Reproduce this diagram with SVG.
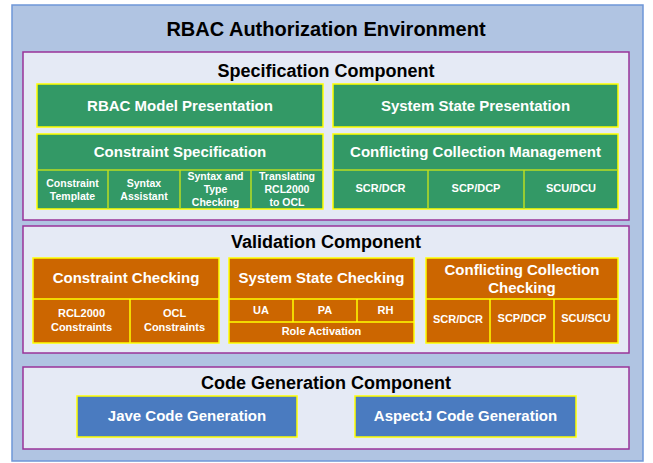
<svg xmlns="http://www.w3.org/2000/svg" width="653" height="463" viewBox="0 0 653 463">
  <style>
    text { font-family: "Liberation Sans", Arial, sans-serif; font-weight: bold; text-anchor: middle; }
    .title { font-size: 20px; fill: #000; }
    .section { font-size: 18px; fill: #000; }
    .head { font-size: 15px; fill: #fff; }
    .sub { font-size: 11px; fill: #fff; }
    .sub-s { font-size: 10.5px; fill: #fff; }
    .env { fill: #B0C4E2; stroke: #6E96D8; stroke-width: 1.5; }
    .panel { fill: #E5EAF5; stroke: #993399; stroke-width: 1.5; }
    .green { fill: #339966; stroke: #FFFF00; stroke-width: 1.5; }
    .orange { fill: #CC6600; stroke: #FFFF00; stroke-width: 1.5; }
    .blue { fill: #4A7BC0; stroke: #FFFF00; stroke-width: 1.5; }
    .div-g { stroke: #BBDD22; stroke-width: 1.5; fill: none; }
    .div-o { stroke: #FFFF00; stroke-width: 1.5; fill: none; }
  </style>

  <!-- environment frame -->
  <g id="environment">
    <rect class="env" x="12" y="5" width="631" height="456"/>
    <text class="title" x="326" y="36">RBAC Authorization Environment</text>
  </g>

  <!-- specification component -->
  <g id="specification">
    <rect class="panel" x="23" y="52" width="606" height="168"/>
    <text class="section" x="326" y="77">Specification Component</text>
  </g>

  <g id="rbac-model-presentation">
    <rect class="green" x="37" y="84" width="286" height="43"/>
    <text class="head" x="180" y="111">RBAC Model Presentation</text>
  </g>

  <g id="system-state-presentation">
    <rect class="green" x="333" y="84" width="285" height="43"/>
    <text class="head" x="475.5" y="111">System State Presentation</text>
  </g>

  <g id="constraint-specification">
    <rect class="green" x="37" y="134" width="286" height="75"/>
    <path class="div-g" d="M37 170H323M108 170V209M180 170V209M251 170V209"/>
    <text class="head" x="180" y="157">Constraint Specification</text>
    <text class="sub-s" x="72.5" y="187">Constraint</text>
    <text class="sub-s" x="72.5" y="200">Template</text>
    <text class="sub-s" x="144" y="187">Syntax</text>
    <text class="sub-s" x="144" y="200">Assistant</text>
    <text class="sub-s" x="215.5" y="180">Syntax and</text>
    <text class="sub-s" x="215.5" y="193">Type</text>
    <text class="sub-s" x="215.5" y="206">Checking</text>
    <text class="sub-s" x="287" y="180">Translating</text>
    <text class="sub-s" x="287" y="193">RCL2000</text>
    <text class="sub-s" x="287" y="206">to OCL</text>
  </g>

  <g id="conflicting-collection-management">
    <rect class="green" x="333" y="134" width="285" height="75"/>
    <path class="div-g" d="M333 170H618M428 170V209M524 170V209"/>
    <text class="head" x="475.5" y="157">Conflicting Collection Management</text>
    <text class="sub" x="380.5" y="192">SCR/DCR</text>
    <text class="sub" x="476" y="192">SCP/DCP</text>
    <text class="sub" x="571" y="192">SCU/DCU</text>
  </g>

  <!-- validation component -->
  <g id="validation">
    <rect class="panel" x="23" y="226" width="606" height="127"/>
    <text class="section" x="326" y="248">Validation Component</text>
  </g>

  <g id="constraint-checking">
    <rect class="orange" x="33" y="258" width="186" height="85"/>
    <path class="div-o" d="M33 299H219M130 299V343"/>
    <text class="head" x="126" y="283">Constraint Checking</text>
    <text class="sub" x="81.5" y="317">RCL2000</text>
    <text class="sub" x="81.5" y="331">Constraints</text>
    <text class="sub" x="174.5" y="317">OCL</text>
    <text class="sub" x="174.5" y="331">Constraints</text>
  </g>

  <g id="system-state-checking">
    <rect class="orange" x="229" y="258" width="185" height="85"/>
    <path class="div-o" d="M229 299H414M229 322H414M293 299V322M357 299V322"/>
    <text class="head" x="321.5" y="283">System State Checking</text>
    <text class="sub" x="261" y="314">UA</text>
    <text class="sub" x="325" y="314">PA</text>
    <text class="sub" x="385.5" y="314">RH</text>
    <text class="sub" x="321.5" y="335">Role Activation</text>
  </g>

  <g id="conflicting-collection-checking">
    <rect class="orange" x="426" y="258" width="192" height="85"/>
    <path class="div-o" d="M426 299H618M490 299V343M554 299V343"/>
    <text class="head" x="522" y="275">Conflicting Collection</text>
    <text class="head" x="522" y="293">Checking</text>
    <text class="sub" x="458" y="323">SCR/DCR</text>
    <text class="sub" x="522" y="322">SCP/DCP</text>
    <text class="sub" x="586" y="322">SCU/SCU</text>
  </g>

  <!-- code generation component -->
  <g id="code-generation">
    <rect class="panel" x="23" y="367" width="606" height="82"/>
    <text class="section" x="326" y="389">Code Generation Component</text>
  </g>

  <g id="java-code-generation">
    <rect class="blue" x="77" y="396" width="220" height="41"/>
    <text class="head" x="187" y="421">Jave Code Generation</text>
  </g>

  <g id="aspectj-code-generation">
    <rect class="blue" x="355" y="396" width="221" height="41"/>
    <text class="head" x="465.5" y="421">AspectJ Code Generation</text>
  </g>

  <!-- no connectors in this diagram -->
  <g id="connectors"/>
</svg>
